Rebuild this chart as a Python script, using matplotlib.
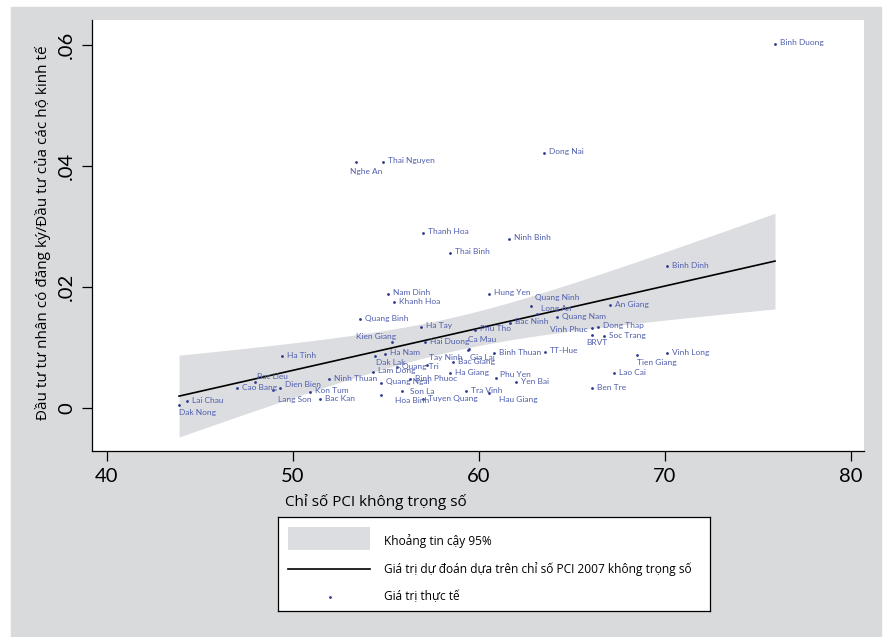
import numpy as np
import matplotlib
matplotlib.use("Agg")
import matplotlib.pyplot as plt
from matplotlib.patches import Rectangle
from matplotlib.lines import Line2D

plt.rcParams["font.family"] = ["Lato", "Open Sans", "DejaVu Sans"]

# Province-level data: unweighted PCI score vs. ratio of registered private
# investment to household-business investment
provinces = [
    "Binh Duong", "Dong Nai", "Nghe An", "Thai Nguyen", "Thanh Hoa", "Ninh Binh",
    "Thai Binh", "Binh Dinh", "Nam Dinh", "Khanh Hoa", "Hung Yen", "Quang Ninh",
    "Long An", "Quang Nam", "An Giang", "Bac Ninh", "Vinh Phuc", "Dong Thap",
    "BRVT", "Soc Trang", "Phu Tho", "Ha Tay", "Quang Binh", "Kien Giang",
    "Hai Duong", "Ca Mau", "Gia Lai", "Ha Nam", "Dak Lak", "Ha Tinh",
    "Tay Ninh", "Bac Giang", "Quang Tri", "Binh Thuan", "TT-Hue", "Tien Giang",
    "Vinh Long", "Lao Cai", "Ben Tre", "Lam Dong", "Ha Giang", "Phu Yen",
    "Yen Bai", "Tra Vinh", "Hau Giang", "Quang Ngai", "Binh Phuoc", "Son La",
    "Hoa Binh", "Tuyen Quang", "Ninh Thuan", "Kon Tum", "Bac Kan", "Dien Bien",
    "Lang Son", "Cao Bang", "Bac Lieu", "Lai Chau", "Dak Nong",
]
pci = [
    75.94, 63.52, 53.41, 54.86, 57.02, 61.64,
    58.47, 70.13, 55.13, 55.46, 60.54, 62.80,
    63.13, 64.20, 67.05, 61.69, 66.10, 66.42,
    66.10, 66.75, 59.81, 56.91, 53.63, 55.35,
    57.12, 59.49, 59.45, 54.97, 54.44, 49.44,
    57.23, 58.63, 55.62, 60.83, 63.57, 68.52,
    70.13, 67.28, 66.10, 54.33, 58.47, 60.94,
    62.02, 59.33, 60.56, 54.76, 56.32, 55.89,
    54.76, 57.02, 51.96, 50.94, 51.48, 49.33,
    48.95, 47.02, 47.98, 44.33, 43.90,
]
ratio = [
    0.0602, 0.0422, 0.0407, 0.0407, 0.0290, 0.0280,
    0.0257, 0.0235, 0.0189, 0.0175, 0.0189, 0.0169,
    0.0155, 0.0150, 0.0170, 0.0141, 0.0133, 0.0135,
    0.0121, 0.0119, 0.0130, 0.0135, 0.0147, 0.0109,
    0.0109, 0.0098, 0.0096, 0.0090, 0.0086, 0.0086,
    0.0071, 0.0076, 0.0068, 0.0091, 0.0093, 0.0088,
    0.0091, 0.0058, 0.0033, 0.0060, 0.0058, 0.0050,
    0.0043, 0.0028, 0.0025, 0.0042, 0.0048, 0.0028,
    0.0022, 0.0015, 0.0048, 0.0027, 0.0015, 0.0033,
    0.0030, 0.0033, 0.0043, 0.0012, 0.0005,
]

x_ticks = [40, 50, 60, 70, 80]
y_ticks = [0, 0.02, 0.04, 0.06]
y_tick_labels = ["0", ".02", ".04", ".06"]

x_title = "Chỉ số PCI không trọng số"
y_title = "Đầu tư tư nhân có đăng ký/Đầu tư của các hộ kinh tế"
legend_labels = [
    "Khoảng tin cậy 95%",
    "Giá trị dự đoán dựa trên chỉ số PCI 2007 không trọng số",
    "Giá trị thực tế",
]

# Marker-label placement (pixel offsets from the dot, y grows downward)
label_offsets = {
    "Nghe An": (-6, 10, "left"), "Dak Nong": (0, 7, "left"),
    "BRVT": (-6, 7, "left"), "Tien Giang": (0, 7, "left"),
    "Dak Lak": (1, 6, "left"), "Gia Lai": (2, 7, "left"),
    "Hoa Binh": (14, 6, "left"), "Lang Son": (5, 9, "left"),
    "Hau Giang": (10, 6, "left"), "Tay Ninh": (2, -8, "left"),
    "Ca Mau": (-1, -9, "left"), "Bac Lieu": (2, -6, "left"),
    "Quang Ninh": (4, -8, "left"), "Long An": (4, -6, "left"),
    "Phu Yen": (4, -4, "left"), "Kien Giang": (4, -6, "right"),
    "Vinh Phuc": (-4, 2, "right"), "Son La": (8, 0, "left"),
    "Dien Bien": (5, -4, "left"),
}
default_offset = (5, -1, "left")

GRAPH_BG = "#d9dadc"
BAND = "#dcdde0"
LABEL_C = "#4f5eae"
DOT_C = "#2b388c"

W, H = 891, 637
fig = plt.figure(figsize=(W / 100, H / 100), dpi=100, facecolor="white")
fig.patches.append(Rectangle((11 / W, 0), (881 - 11) / W, (637 - 7) / H,
                             transform=fig.transFigure, color=GRAPH_BG, zorder=-10))

L, R, T, B = 92, 864, 20, 451
ax = fig.add_axes([L / W, 1 - B / H, (R - L) / W, (B - T) / H])
ax.set_facecolor("white")

x = np.array(pci)
y = np.array(ratio)

# Linear fit with 95% confidence interval of the mean prediction
n = len(x)
slope, intercept = np.polyfit(x, y, 1)
resid = y - (intercept + slope * x)
s = np.sqrt(np.sum(resid ** 2) / (n - 2))
xbar = x.mean()
sxx = np.sum((x - xbar) ** 2)
xs = np.linspace(x.min(), x.max(), 200)
fit = intercept + slope * xs
se = s * np.sqrt(1.0 / n + (xs - xbar) ** 2 / sxx)
tcrit = 2.0025
ax.fill_between(xs, fit - tcrit * se, fit + tcrit * se, color=BAND, lw=0, zorder=1)
ax.plot(xs, fit, color="black", lw=1.2, zorder=2)

ax.plot(x, y, "o", ms=2.0, color=DOT_C, mec="none", zorder=3)
for name, xi, yi in zip(provinces, x, y):
    dx, dy, ha = label_offsets.get(name, default_offset)
    ax.annotate(name, (xi, yi), xytext=(dx * 0.72, -dy * 0.72),
                textcoords="offset points", ha=ha, va="center",
                fontsize=6.0, color=LABEL_C, zorder=4)

ax.set_xlim(40 - 14.5 / 18.6, 80 + 13.5 / 18.6)
ax.set_ylim(-42.7 / 6055, 388.3 / 6055)
ax.set_xticks(x_ticks)
ax.set_xticklabels([str(v) for v in x_ticks])
ax.set_yticks(y_ticks)
ax.set_yticklabels(y_tick_labels, rotation=90, va="center")
for sp in ("top", "right"):
    ax.spines[sp].set_visible(False)
for sp in ("left", "bottom"):
    ax.spines[sp].set_linewidth(0.9)
ax.tick_params(axis="both", direction="out", length=7, width=0.9,
               labelsize=14.5, pad=5)

viet = ["Open Sans", "DejaVu Sans"]
fig.text(43 / W, 1 - 233 / H, y_title, rotation=90, ha="center", va="center",
         fontsize=11, family=viet)
fig.text(376 / W, 1 - 502 / H, x_title, ha="center", va="center",
         fontsize=11, family=viet)

# Legend box
lx0, ly0, lw, lh = 278, 517, 432, 94
lg = fig.add_axes([lx0 / W, 1 - (ly0 + lh) / H, lw / W, lh / H])
lg.set_xlim(0, lw)
lg.set_ylim(lh, 0)
lg.set_xticks([])
lg.set_yticks([])
lg.set_facecolor("white")
for sp in lg.spines.values():
    sp.set_linewidth(0.9)
lg.add_patch(Rectangle((10, 10), 82, 23, color=BAND, lw=0))
lg.add_line(Line2D([10, 92], [52, 52], color="black", lw=1.2))
lg.plot([52], [80], "o", ms=2.0, color=DOT_C, mec="none")
for txt, yy in zip(legend_labels, [24, 52, 80]):
    lg.text(106, yy, txt, ha="left", va="center", fontsize=8.6, family=viet)

fig.savefig("out.png", dpi=100)
